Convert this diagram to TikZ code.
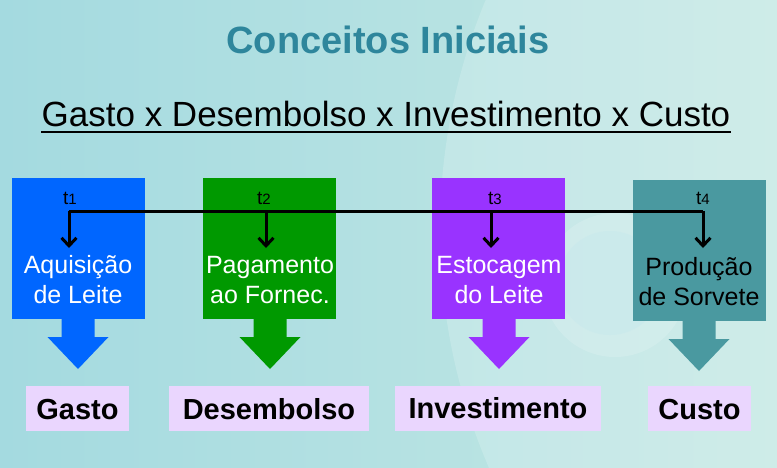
\documentclass[tikz,border=0pt]{standalone}
\usepackage{fontspec}
\setmainfont{Liberation Sans}
\usetikzlibrary{arrows.meta}

\definecolor{titleteal}{RGB}{46,134,156}
\definecolor{boxblue}{RGB}{0,102,255}
\definecolor{boxgreen}{RGB}{0,153,0}
\definecolor{boxpurple}{RGB}{153,51,255}
\definecolor{boxteal}{RGB}{74,153,160}
\definecolor{lilac}{RGB}{234,214,254}
\definecolor{bgleft}{RGB}{164,218,224}
\definecolor{bgright}{RGB}{196,232,228}

\newcommand{\fatarrow}[3]{%
  \fill[#3] ({#1-16.5},#2) -- ({#1+16.5},#2) -- ({#1+16.5},#2+18) -- ({#1+30.5},#2+18)
    -- (#1,#2+50) -- ({#1-30.5},#2+18) -- ({#1-16.5},#2+18) -- cycle;}

\tikzset{
  box/.style={rectangle,anchor=north west,inner sep=0pt,minimum width=133pt,minimum height=141pt},
  boxtxt/.style={align=center,anchor=base,inner sep=0pt,font=\fontsize{25}{30}\selectfont},
  tlbl/.style={anchor=base,inner sep=0pt,font=\fontsize{19}{19}\selectfont},
  tline/.style={line width=3pt},
  concept/.style={rectangle,fill=lilac,inner sep=0pt,minimum height=45pt,
    text height=21pt,text depth=0pt,font=\fontsize{29}{29}\selectfont\bfseries}
}

\begin{document}
\begin{tikzpicture}[x=1pt,y=-1pt]
\useasboundingbox (0,0) rectangle (777,467);

% fundo
\fill[left color=bgleft,right color=bgright] (0,0) rectangle (777,467);
\fill[white,opacity=.18] (1040,230) circle (600);
\fill[white,opacity=.15] (615,285) circle (72);
\fill[bgleft!60!white,opacity=.6] (610,283) circle (52);

\node (tit) at (388,40) [font=\fontsize{38}{38}\selectfont\bfseries,text=titleteal] {Conceitos Iniciais};
\node (sub) at (386,126) [anchor=base,inner sep=0pt,font=\fontsize{35}{35}\selectfont] {Gasto x Desembolso x Investimento x Custo};
\draw[line width=2.5pt] ([yshift=-6pt]sub.base west) -- ([yshift=-6pt]sub.base east);

% caixas
\node (10) at (12,178) [box,fill=boxblue] {};
\node (20) at (203,178) [box,fill=boxgreen] {};
\node (30) at (432,178) [box,fill=boxpurple] {};
\node (40) at (633,180) [box,fill=boxteal] {};

\fatarrow{78}{319}{boxblue}
\fatarrow{270}{319}{boxgreen}
\fatarrow{499}{319}{boxpurple}
\fatarrow{699}{321}{boxteal}

\node (1a) at (78,303) [boxtxt,text=white] {Aquisição\\de Leite};
\node (2a) at (270,303) [boxtxt,text=white] {Pagamento\\ao Fornec.};
\node (3a) at (499,303) [boxtxt,text=white] {Estocagem\\do Leite};
\node (4a) at (699,305) [boxtxt,text=black] {Produção\\de Sorvete};

% linha do tempo
\node (1t) at (70,204) [tlbl] {t{\fontsize{15}{15}\selectfont 1}};
\node (2t) at (264,204) [tlbl] {t{\fontsize{15}{15}\selectfont 2}};
\node (3t) at (495,204) [tlbl] {t{\fontsize{15}{15}\selectfont 3}};
\node (4t) at (703,204) [tlbl] {t{\fontsize{15}{15}\selectfont 4}};

\coordinate (1l) at (69,211);
\coordinate (2l) at (266,211);
\coordinate (3l) at (491,211);
\coordinate (4l) at (703,211);
\coordinate (1e) at (69,248);
\coordinate (2e) at (266,248);
\coordinate (3e) at (491,248);
\coordinate (4e) at (703,248);

\draw[tline] (1l) -- (4l);
\draw[tline,-{Straight Barb[length=8pt,width=15pt]}] (1l) -- (1e);
\draw[tline,-{Straight Barb[length=8pt,width=15pt]}] (2l) -- (2e);
\draw[tline,-{Straight Barb[length=8pt,width=15pt]}] (3l) -- (3e);
\draw[tline,-{Straight Barb[length=8pt,width=15pt]}] (4l) -- (4e);

% conceitos
\node (11) at (77.5,408.5) [concept,minimum width=103pt] {Gasto};
\node (21) at (269,408.5) [concept,minimum width=200pt] {Desembolso};
\node (31) at (498,408) [concept,minimum width=206pt] {Investimento};
\node (41) at (699.5,408.5) [concept,minimum width=103pt] {Custo};

\end{tikzpicture}
\end{document}
